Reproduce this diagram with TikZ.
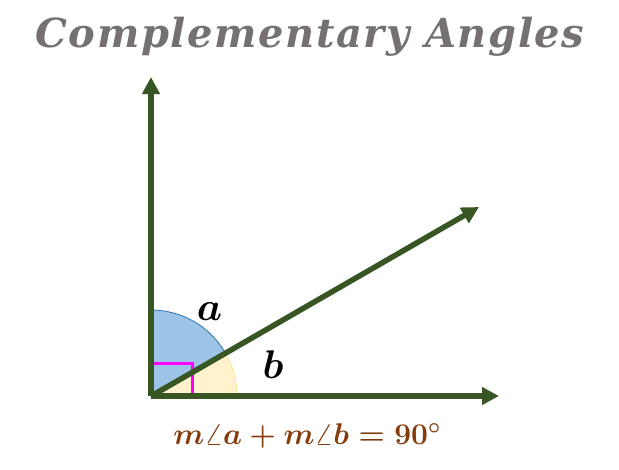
\RequirePackage{fix-cm}
\documentclass[tikz,border=0pt]{standalone}
\usepackage{fontspec}
\setmainfont{Liberation Serif}
\newfontfamily\titlefont[LetterSpace=4]{DejaVu Serif}
\usetikzlibrary{arrows.meta}
\definecolor{ttl}{HTML}{767171}
\definecolor{ray}{HTML}{375623}
\definecolor{blu}{HTML}{9DC3E6}
\definecolor{bluE}{HTML}{2E75B6}
\definecolor{yel}{HTML}{FFF2CC}
\definecolor{yelE}{HTML}{FFE699}
\definecolor{brn}{HTML}{843C0C}
\definecolor{mag}{HTML}{FF00FF}
\tikzset{
  rayline/.style={draw=ray,line width=5.5pt,-{Triangle[length=17pt,width=17pt]}},
  lbl/.style={font=\fontsize{40}{40}\selectfont\boldmath,anchor=base,inner sep=0pt},
}
\begin{document}
\begin{tikzpicture}[x=1pt,y=-1pt]
\useasboundingbox (0,0) rectangle (619,469);
\coordinate (O) at (151,396);
\coordinate (V) at (151,77);
\coordinate (H) at (499,396);
\coordinate (D) at (479,207);
\coordinate (O2) at (153,395);
% wedges
\fill[yel,draw=yelE,line width=0.8pt] (O) -- (237,396) arc[start angle=0,end angle=-30,radius=86] -- cycle;
\fill[blu,draw=bluE,line width=0.8pt] (O) -- (151,310) arc[start angle=-90,end angle=-30,radius=86] -- cycle;
\draw[mag,line width=3pt] (152,363) -- (192,363) -- (192,396);
\draw[rayline] (O) -- (V);
\draw[rayline] (O) -- (H);
\draw[rayline] (O2) -- (D);
\node[lbl] (la) at (209.5,320) {$a$};
\node[lbl] (lb) at (273,378) {$b$};
\node[text=ttl,anchor=base,inner sep=0pt,font=\titlefont\fontsize{40}{40}\selectfont\bfseries\itshape] (title) at (310,47) {Complementary Angles};
\node[text=brn,anchor=base,inner sep=0pt,font=\fontsize{30}{30}\selectfont\boldmath] (eq) at (307,444) {$m\angle a+m\angle b=\mathbf{90^\circ}$};
\end{tikzpicture}
\end{document}
